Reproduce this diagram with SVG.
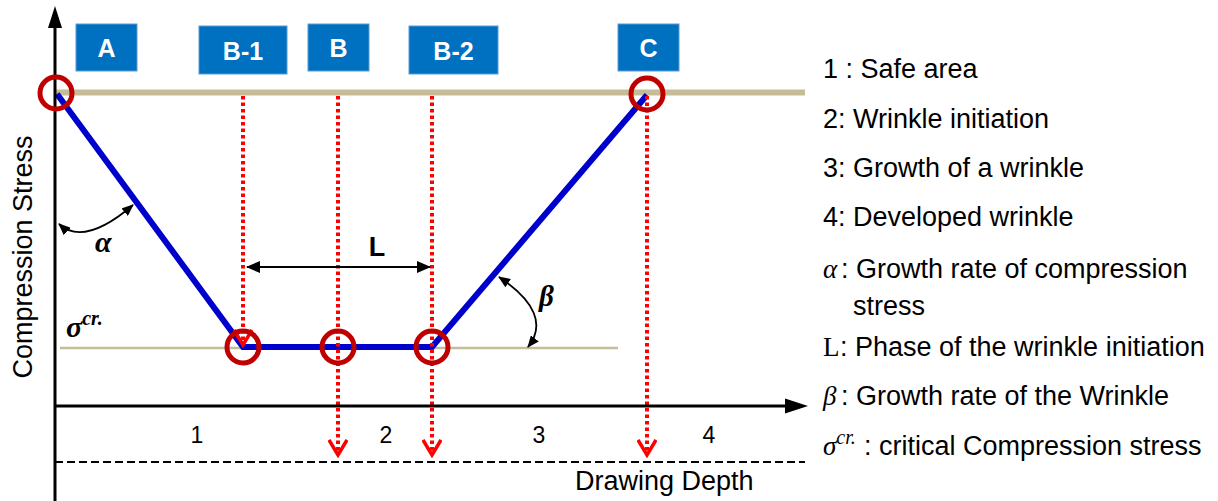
<svg xmlns="http://www.w3.org/2000/svg" width="1218" height="501" viewBox="0 0 1218 501">
<style>
.box{fill:#0070C0;stroke:#5B9BD5;stroke-width:1}
.boxt{font-family:"Liberation Sans",Arial,sans-serif;font-weight:bold;font-size:25px;fill:#fff;text-anchor:middle}
.sans{font-family:"Liberation Sans",Arial,sans-serif;fill:#000}
.ser{font-family:"Liberation Serif","Times New Roman",serif;fill:#000}
.leg{font-family:"Liberation Sans",Arial,sans-serif;font-size:27px;fill:#000}
.dot{stroke:#FF0000;stroke-width:4;stroke-dasharray:3.5 3;fill:none}
.ring{fill:none;stroke:#C00000;stroke-width:5}
</style>
<defs>
<marker id="redV" viewBox="0 0 20 20" refX="17" refY="10" markerWidth="20" markerHeight="20" markerUnits="userSpaceOnUse" orient="auto"><path d="M2,1 L17,10 L2,19" fill="none" stroke="#FF0000" stroke-width="3.5"/></marker>
<marker id="blk" viewBox="0 0 14 12" refX="13" refY="6" markerWidth="14" markerHeight="12" markerUnits="userSpaceOnUse" orient="auto-start-reverse"><path d="M0,0 L14,6 L0,12 z" fill="#000"/></marker>
<marker id="blks" viewBox="0 0 12 10" refX="11" refY="5" markerWidth="12" markerHeight="10" markerUnits="userSpaceOnUse" orient="auto-start-reverse"><path d="M0,0 L12,5 L0,10 z" fill="#000"/></marker>
</defs>
<rect width="1218" height="501" fill="#fff"/>

<!-- reference lines -->
<g id="reflines">
<line x1="55" y1="92.5" x2="805" y2="92.5" stroke="#C4BD97" stroke-width="6"/>
<line x1="60" y1="348" x2="618" y2="348" stroke="#C4BD97" stroke-width="2.5"/>
<line x1="55" y1="462" x2="805" y2="462" stroke="#000" stroke-width="2.2" stroke-dasharray="8 4"/>
</g>

<!-- stress curve -->
<g id="curve">
<polyline points="57,94 243,347 432,347 647,95" fill="none" stroke="#0000CC" stroke-width="6" stroke-linejoin="miter"/>
</g>

<!-- connectors -->
<g id="connectors">
<line class="dot" x1="243" y1="96" x2="243" y2="345" marker-end="url(#redV)"/>
<line class="dot" x1="338" y1="96" x2="338" y2="455" marker-end="url(#redV)"/>
<line class="dot" x1="432" y1="96" x2="432" y2="455" marker-end="url(#redV)"/>
<line class="dot" x1="647" y1="96" x2="647" y2="455" marker-end="url(#redV)"/>
<line x1="247" y1="267" x2="430" y2="267" stroke="#000" stroke-width="2" marker-start="url(#blk)" marker-end="url(#blk)"/>
<path d="M59,224 Q84,247 133,205" fill="none" stroke="#000" stroke-width="1.8" marker-start="url(#blks)" marker-end="url(#blks)"/>
<path d="M499,277 Q554,314 528,347" fill="none" stroke="#000" stroke-width="1.8" marker-start="url(#blks)" marker-end="url(#blks)"/>
</g>

<!-- axes -->
<g id="axes">
<line x1="55" y1="26" x2="55" y2="501" stroke="#000" stroke-width="3"/>
<path d="M55,6 L48,28 L62,28 z" fill="#000"/>
<line x1="55" y1="406" x2="788" y2="406" stroke="#000" stroke-width="3"/>
<path d="M808,406 L785,398.5 L785,413.5 z" fill="#000"/>
</g>

<!-- points -->
<g id="points">
<circle class="ring" cx="56" cy="93" r="16"/>
<circle class="ring" cx="243" cy="347" r="16"/>
<circle class="ring" cx="338" cy="347" r="16"/>
<circle class="ring" cx="432" cy="347" r="16"/>
<circle class="ring" cx="647" cy="94" r="16"/>
</g>

<!-- boxes -->
<g id="node-A"><rect class="box" x="76" y="24" width="61" height="47"/><text class="boxt" x="106.5" y="57">A</text></g>
<g id="node-B1"><rect class="box" x="199" y="26" width="88" height="48"/><text class="boxt" x="243" y="60">B-1</text></g>
<g id="node-B"><rect class="box" x="308" y="24" width="61" height="47"/><text class="boxt" x="338.5" y="57">B</text></g>
<g id="node-B2"><rect class="box" x="409" y="26" width="89" height="48"/><text class="boxt" x="453.5" y="60">B-2</text></g>
<g id="node-C"><rect class="box" x="618" y="24" width="61" height="47"/><text class="boxt" x="648.5" y="57">C</text></g>

<!-- labels -->
<g id="labels">
<text class="sans" font-size="27" text-anchor="middle" transform="translate(32,257) rotate(-90)">Compression Stress</text>
<text class="sans" font-size="27" x="575" y="490">Drawing Depth</text>
<text class="sans" font-size="23" x="197" y="443" text-anchor="middle">1</text>
<text class="sans" font-size="23" x="386" y="443" text-anchor="middle">2</text>
<text class="sans" font-size="23" x="539" y="443" text-anchor="middle">3</text>
<text class="sans" font-size="23" x="709" y="443" text-anchor="middle">4</text>
<text class="sans" font-size="27" font-weight="bold" x="377" y="256" text-anchor="middle">L</text>
<text class="ser" font-size="30" font-weight="bold" font-style="italic" x="95" y="252">α</text>
<text class="ser" font-size="29" font-weight="bold" font-style="italic" x="539" y="306">β</text>
<text class="ser" font-size="30" font-weight="bold" font-style="italic" x="66" y="337">σ<tspan font-size="20" dy="-12">cr.</tspan></text>
</g>

<!-- legend -->
<g id="legend">
<text class="leg" x="823" y="78">1 : Safe area</text>
<text class="leg" x="823" y="128">2: Wrinkle initiation</text>
<text class="leg" x="823" y="177">3: Growth of a wrinkle</text>
<text class="leg" x="823" y="226">4: Developed wrinkle</text>
<text class="leg" x="823" y="278"><tspan class="ser" font-style="italic">α</tspan><tspan x="841">: Growth rate of compression</tspan></text>
<text class="leg" x="853" y="315">stress</text>
<text class="leg" x="823" y="356"><tspan class="ser">L</tspan><tspan x="840">: Phase of the wrinkle initiation</tspan></text>
<text class="leg" x="823" y="405"><tspan class="ser" font-style="italic">β</tspan><tspan x="841">: Growth rate of the Wrinkle</tspan></text>
<text class="leg" x="823" y="455"><tspan class="ser" font-style="italic">σ</tspan><tspan class="ser" font-style="italic" font-size="20" dy="-11">cr.</tspan><tspan x="864" dy="11">: critical Compression stress</tspan></text>
</g>
</svg>
